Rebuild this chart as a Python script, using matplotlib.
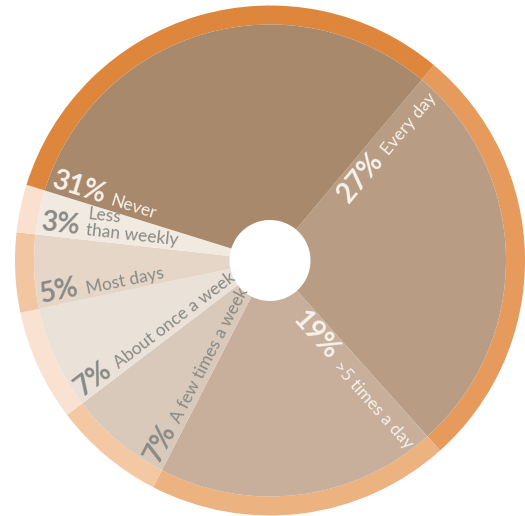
import numpy as np
import matplotlib.pyplot as plt

categories = ['Every day', '>5 times a day', 'A few times a week', 'About once a week',
              'Most days', 'Less than weekly', 'Never']
values = [27, 19, 7, 7, 5, 3, 31]
inner_colors = ['#B89D84', '#C7AF9B', '#D8C9BA', '#EAE1D8', '#E6D6C7', '#F1EAE1', '#A8896B']
ring_colors = ['#E69A5C', '#ECB27F', '#F3C8A3', '#FAE2D2', '#F2C6A0', '#FAE0CE', '#DF863D']
text_colors = ['#F7F2EC', '#F7F2EC', '#8A8A86', '#8A8A86', '#8A8A86', '#8A8A86', '#F7F2EC']

W, H = 525, 516
CX, CY = 270, H - 260.5
R_OUT, R_IN, R_HOLE = 255, 236, 40.5
START = 50

plt.rcParams['font.family'] = ['Lato', 'DejaVu Sans']

fig = plt.figure(figsize=(W / 100, H / 100), dpi=100)
ax = fig.add_axes([0, 0, 1, 1])

ax.pie(values, colors=ring_colors, radius=R_OUT, center=(CX, CY), startangle=START,
       counterclock=False, wedgeprops=dict(width=R_OUT - R_IN, linewidth=0))
ax.pie(values, colors=inner_colors, radius=R_IN, center=(CX, CY), startangle=START,
       counterclock=False, wedgeprops=dict(width=R_IN - R_HOLE, linewidth=0))

ax.set_xlim(0, W)
ax.set_ylim(0, H)
ax.set_aspect('equal')
ax.axis('off')

renderer = fig.canvas.get_renderer()


def text_width(s, size, weight):
    t = ax.text(0, 0, s, fontsize=size, fontweight=weight)
    w = t.get_window_extent(renderer).width
    t.remove()
    return w


def pt(r, ang, d):
    a = np.radians(ang)
    return CX + r * np.cos(a) + d * np.sin(a), CY + r * np.sin(a) - d * np.cos(a)


PCT_SIZE, LAB_SIZE = 20, 12.5
R_TXT, SEP, GAP = 232, 7, 5
CAP = 19

total = sum(values)
cum = np.concatenate([[0], np.cumsum(values)[:-1]])
edges = START - 360 * cum / total

for cat, v, edge, col in zip(categories, values, edges, text_colors):
    pct = f'{v}%'
    lines = ['Less', 'than weekly'] if cat == 'Less than weekly' else [cat]
    lab_w = max(text_width(l, LAB_SIZE, 'normal') for l in lines)
    pct_w = text_width(pct, PCT_SIZE, 'bold')
    right = np.cos(np.radians(edge)) > 0
    if right:
        rot = edge
        d = GAP + CAP
        x, y = pt(R_TXT, edge, d)
        ax.text(x, y, lines[0], fontsize=LAB_SIZE, color=col, rotation=rot,
                rotation_mode='anchor', ha='right', va='baseline')
        x, y = pt(R_TXT - lab_w - SEP, edge, d)
        ax.text(x, y, pct, fontsize=PCT_SIZE, fontweight='bold', color=col,
                rotation=rot, rotation_mode='anchor', ha='right', va='baseline')
    else:
        rot = edge + 180 if edge < 0 else edge - 180
        x, y = pt(R_TXT, edge, GAP)
        ax.text(x, y, pct, fontsize=PCT_SIZE, fontweight='bold', color=col,
                rotation=rot, rotation_mode='anchor', ha='left', va='baseline')
        r_lab = R_TXT - pct_w - SEP
        for k, line in enumerate(reversed(lines)):
            x, y = pt(r_lab, edge, GAP + 16 * k)
            ax.text(x, y, line, fontsize=LAB_SIZE, color=col, rotation=rot,
                    rotation_mode='anchor', ha='left', va='baseline')

fig.savefig('out.png', dpi=100)
